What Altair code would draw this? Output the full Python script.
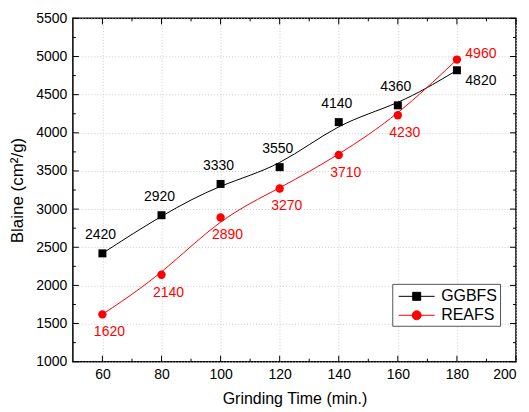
import altair as alt
import pandas as pd

times = [60, 80, 100, 120, 140, 160, 180]
ggbfs = [2420, 2920, 3330, 3550, 4140, 4360, 4820]
reafs = [1620, 2140, 2890, 3270, 3710, 4230, 4960]
series = ["GGBFS", "REAFS"]
colors = ["#000000", "#ff0000"]

x_major = [60, 80, 100, 120, 140, 160, 180, 200]
x_minor = [70, 90, 110, 130, 150, 170, 190]
y_major = [1000, 1500, 2000, 2500, 3000, 3500, 4000, 4500, 5000, 5500]
y_minor = [1250, 1750, 2250, 2750, 3250, 3750, 4250, 4750, 5250]

W, H = 444, 344
FONT = "Liberation Sans"

df = pd.DataFrame(
    {"time": times * 2,
     "value": ggbfs + reafs,
     "series": [series[0]] * len(times) + [series[1]] * len(times)}
)
df["label"] = df["value"].astype(str)

xs = alt.Scale(domain=[50, 200], nice=False, zero=False)
ys = alt.Scale(domain=[1000, 5500], nice=False, zero=False)
cs = alt.Scale(domain=series, range=colors)

X = alt.X("time:Q", scale=xs,
          axis=alt.Axis(values=x_major, format="d", title="Grinding Time (min.)", grid=True))
Y = alt.Y("value:Q", scale=ys,
          axis=alt.Axis(values=y_major, format="d", title="Blaine (cm²/g)", grid=True))

base = alt.Chart(df)
g = base.transform_filter("datum.series == 'GGBFS'")
r = base.transform_filter("datum.series == 'REAFS'")

line_g = g.mark_line(interpolate="basis", strokeWidth=1, color="black").encode(x=X, y=Y)
line_r = r.mark_line(interpolate="basis", strokeWidth=1, color="red").encode(x=X, y=Y)

pts_g = g.mark_point(filled=True, size=64, opacity=1, shape="square", color="black").encode(x=X, y=Y)
pts_r = r.mark_point(filled=True, size=70, opacity=1, shape="circle", color="red").encode(x=X, y=Y)

# legend glyphs: line with marker, drawn in units of 10px (symbolSize 400)
sq_path = "M-0.6,0H3.0M0.8,-0.4H1.6V0.4H0.8Z"
ci_path = "M-0.6,0H3.0M0.75,0A0.45,0.45 0 1,0 1.65,0A0.45,0.45 0 1,0 0.75,0Z"

leg = alt.Legend(title=None, orient="none", legendX=320, legendY=266,
                 strokeColor="#555555", fillColor="white", padding=2,
                 symbolSize=400, symbolStrokeWidth=1, symbolOpacity=1,
                 labelFont=FONT, labelFontSize=16, labelColor="black",
                 labelOffset=26, rowPadding=0)

legend_layer = base.mark_point(filled=True, size=1).encode(
    x=X, y=Y,
    color=alt.Color("series:N", scale=cs, legend=leg),
    stroke=alt.Stroke("series:N", scale=cs, legend=leg),
    shape=alt.Shape("series:N", scale=alt.Scale(domain=series, range=[sq_path, ci_path]), legend=leg))

txt_g = g.transform_filter("datum.time < 180").mark_text(
    font=FONT, fontSize=14, color="black", dx=-2, dy=-18).encode(
    x=X, y=Y, text="label:N")
txt_r = r.transform_filter("datum.time < 180").mark_text(
    font=FONT, fontSize=14, color="red", dx=7, dy=18).encode(
    x=X, y=Y, text="label:N")
txt_g_end = g.transform_filter("datum.time == 180").mark_text(
    font=FONT, fontSize=14, color="black", dx=24, dy=11).encode(
    x=X, y=Y, text="label:N")
txt_r_end = r.transform_filter("datum.time == 180").mark_text(
    font=FONT, fontSize=14, color="red", dx=24, dy=-6).encode(
    x=X, y=Y, text="label:N")

xmaj = pd.DataFrame({"time": x_major})
xmin = pd.DataFrame({"time": x_minor})
ymaj = pd.DataFrame({"value": y_major})
ymin = pd.DataFrame({"value": y_minor})


def xticks(d, ln):
    b = alt.Chart(d).mark_rule(color="black", strokeWidth=1)
    bot = b.encode(x=X, y=alt.value(H), y2=alt.value(H - ln))
    top = b.encode(x=X, y=alt.value(0), y2=alt.value(ln))
    return [bot, top]


def yticks(d, ln):
    b = alt.Chart(d).mark_rule(color="black", strokeWidth=1)
    lft = b.encode(y=Y, x=alt.value(0), x2=alt.value(ln))
    rgt = b.encode(y=Y, x=alt.value(W), x2=alt.value(W - ln))
    return [lft, rgt]


layers = [line_g, line_r, legend_layer, pts_g, pts_r, txt_g, txt_r, txt_g_end, txt_r_end]
layers += xticks(xmaj, 6) + xticks(xmin, 3) + yticks(ymaj, 6) + yticks(ymin, 3)

chart = alt.layer(*layers).properties(
    width=W, height=H,
    autosize=alt.AutoSizeParams(type="none"),
    padding={"left": 65, "top": 10, "right": 5, "bottom": 48},
).configure_view(
    stroke="black", strokeWidth=1.5
).configure_axis(
    domain=False, ticks=False, labelFont=FONT, titleFont=FONT,
    labelFontSize=14, labelColor="black", titleColor="black",
    titleFontWeight="normal", gridColor="#cccccc", gridDash=[1, 2], gridWidth=1,
).configure_axisX(
    labelPadding=6, titlePadding=9, titleFontSize=16,
).configure_axisY(
    labelPadding=6, titlePadding=9, titleFontSize=17,
)

chart.save("out.html", embed_options={"renderer": "svg", "actions": False})
